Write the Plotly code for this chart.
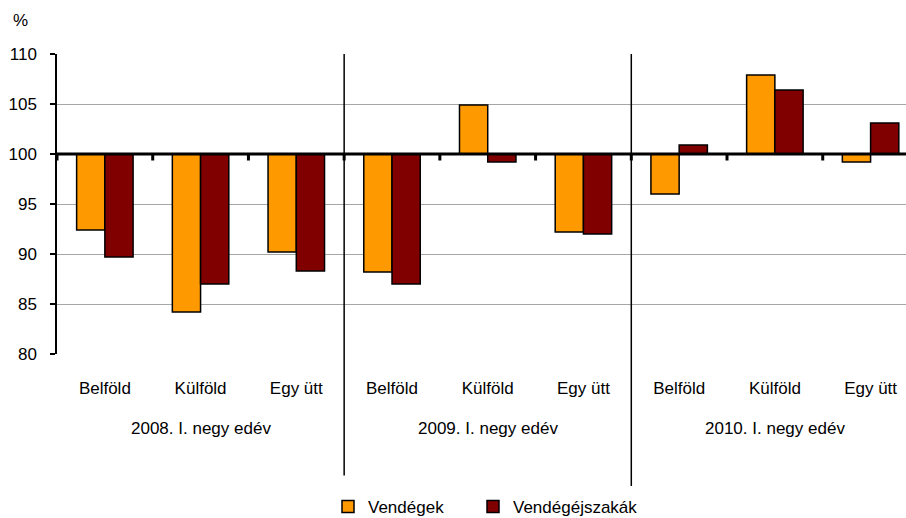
import plotly.graph_objects as go

groups = ["2008. I. negy edév", "2009. I. negy edév", "2010. I. negy edév"]
cats = ["Belföld", "Külföld", "Egy ütt"]
vendegek = [92.4, 84.2, 90.2, 88.2, 104.9, 92.2, 96.0, 107.9, 99.2]
ejszakak = [89.7, 87.0, 88.3, 87.0, 99.2, 92.0, 100.9, 106.4, 103.1]
series_names = ["Vendégek", "Vendégéjszakák"]
yticks = [80, 85, 90, 95, 100, 105, 110]
BASE = 100

FONT = "Liberation Sans, Arial, sans-serif"
FS = 17
labels = [c for g in groups for c in cats]
xs = list(range(len(labels)))

fig = go.Figure()
for name, vals, col, lg in [(series_names[0], vendegek, "#FF9900", "legend"),
                            (series_names[1], ejszakak, "#800000", "legend2")]:
    fig.add_trace(go.Bar(
        x=xs, y=[v - BASE for v in vals], base=BASE, name=name, legend=lg,
        marker=dict(color=col, line=dict(color="black", width=1.5)),
        customdata=vals, hovertemplate="%{customdata}<extra>" + name + "</extra>",
    ))

shapes = []
shapes.append(dict(type="line", xref="paper", yref="y", x0=0, x1=1, y0=BASE, y1=BASE,
                   line=dict(color="black", width=3), layer="above"))
for k in range(len(labels)):
    shapes.append(dict(type="line", xref="x", yref="y", x0=k - 0.5, x1=k - 0.5,
                       y0=BASE, y1=BASE - 0.65, line=dict(color="black", width=3), layer="above"))
for i, yb in [(1, -0.405), (2, -0.44)]:
    xsep = i * len(cats) - 0.5
    shapes.append(dict(type="line", xref="x", yref="paper", x0=xsep, x1=xsep,
                       y0=yb, y1=1, line=dict(color="black", width=1.5), layer="above"))

annotations = [dict(text="%", xref="paper", yref="paper", x=-0.043, y=1.11,
                    xanchor="center", yanchor="middle", showarrow=False,
                    font=dict(family=FONT, size=FS, color="black"))]
for i, g in enumerate(groups):
    annotations.append(dict(text=g, xref="x", yref="paper", x=i * len(cats) + 1, y=-0.247,
                            xanchor="center", yanchor="middle", showarrow=False,
                            font=dict(family=FONT, size=FS, color="black")))

legend_common = dict(orientation="h", xanchor="left", y=-0.51, yanchor="middle",
                     font=dict(family=FONT, size=FS, color="black"), itemwidth=30)

fig.update_layout(
    width=906, height=518,
    margin=dict(l=57, r=0, t=54, b=164, autoexpand=False),
    paper_bgcolor="white", plot_bgcolor="white",
    barmode="group", bargap=0.41, bargroupgap=0,
    font=dict(family=FONT, size=FS, color="black"),
    shapes=shapes, annotations=annotations,
    showlegend=True,
    legend=dict(x=(328 - 57) / 849, **legend_common),
    legend2=dict(x=(473 - 57) / 849, **legend_common),
    xaxis=dict(range=[-0.5, 8.37], tickmode="array", tickvals=xs, ticktext=labels,
               showgrid=False, zeroline=False, showline=False, ticks="",
               ticklabelstandoff=22, fixedrange=True, automargin=False),
    yaxis=dict(range=[80, 110], tickmode="array", tickvals=yticks,
               showgrid=True, gridcolor="#A6A6A6", gridwidth=1,
               zeroline=False, showline=True, linecolor="black", linewidth=1.5,
               ticks="outside", ticklen=5, tickcolor="black", tickwidth=1.5,
               ticklabelstandoff=10, fixedrange=True, automargin=False),
)
fig.write_html("out.html", config={"displayModeBar": False},
               post_script="document.body.style.margin='0';document.body.style.overflow='hidden';")
